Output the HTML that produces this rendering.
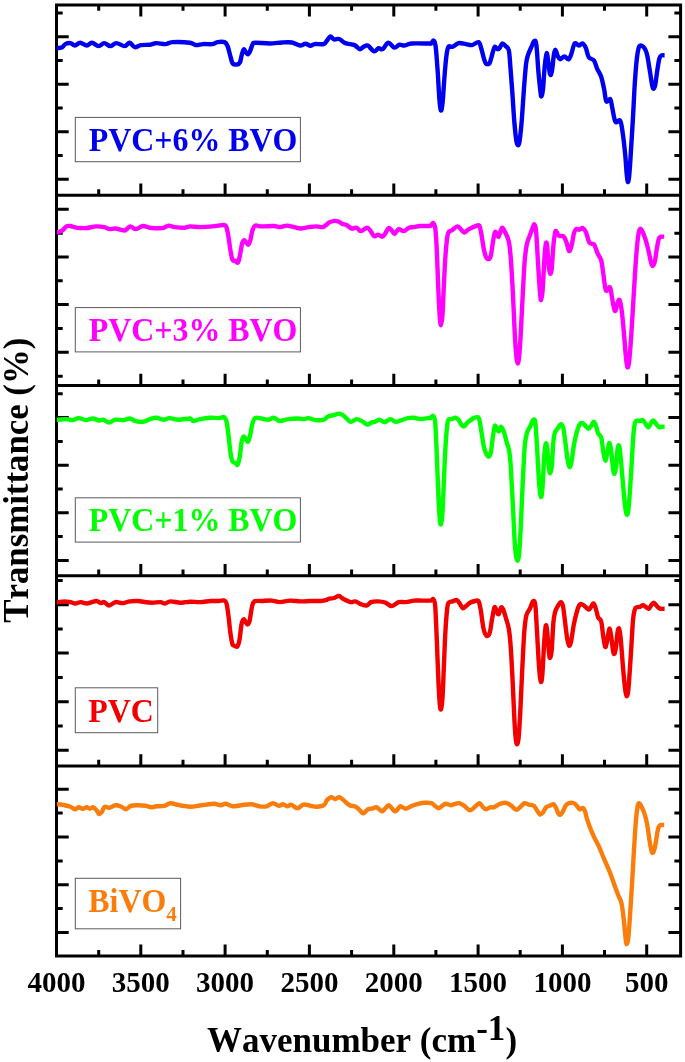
<!DOCTYPE html><html><head><meta charset="utf-8"><title>FTIR spectra</title><style>html,body{margin:0;padding:0;background:#fff}svg{display:block}text{font-family:"Liberation Serif","Times New Roman",serif;font-weight:bold;font-kerning:none;font-variant-ligatures:none}</style></head><body>
<svg width="685" height="1062" viewBox="0 0 685 1062">
<rect width="685" height="1062" fill="#fff"/>
<rect x="75.3" y="117.4" width="225.1" height="44.3" fill="#fff" stroke="#5a5a5a" stroke-width="1"/>
<text transform="translate(88.8 150.6) scale(1 1.040)" font-size="31.9" fill="#0000f0">PVC+6% BVO</text>
<rect x="75.3" y="307.6" width="225.1" height="44.3" fill="#fff" stroke="#5a5a5a" stroke-width="1"/>
<text transform="translate(88.8 340.8) scale(1 1.040)" font-size="31.9" fill="#ff00ff">PVC+3% BVO</text>
<rect x="75.3" y="497.8" width="225.1" height="44.3" fill="#fff" stroke="#5a5a5a" stroke-width="1"/>
<text transform="translate(88.8 531.0) scale(1 1.040)" font-size="31.9" fill="#00ff00">PVC+1% BVO</text>
<rect x="75.3" y="687.8" width="82.4" height="44.9" fill="#fff" stroke="#5a5a5a" stroke-width="1"/>
<text transform="translate(88.3 721.5) scale(1 1.040)" font-size="31.9" fill="#f20000">PVC</text>
<rect x="75.3" y="878.3" width="105.3" height="50.5" fill="#fff" stroke="#5a5a5a" stroke-width="1"/>
<text transform="translate(88.3 912.0) scale(1 1.040)" font-size="31.9" fill="#fa7d0c">BiVO<tspan dy="8.2" font-size="21">4</tspan></text>
<path d="M56.5 36.8H68.7M680.6 36.8H668.4M56.5 84.3H68.7M680.6 84.3H668.4M56.5 131.8H68.7M680.6 131.8H668.4M56.5 179.3H68.7M680.6 179.3H668.4M56.5 13.1H62.7M680.6 13.1H674.4M56.5 60.5H62.7M680.6 60.5H674.4M56.5 108.0H62.7M680.6 108.0H674.4M56.5 155.5H62.7M680.6 155.5H674.4M646.7 195.3V183.6M562.4 195.3V183.6M478.1 195.3V183.6M393.8 195.3V183.6M309.4 195.3V183.6M225.1 195.3V183.6M140.8 195.3V183.6M604.5 195.3V189.2M520.2 195.3V189.2M435.9 195.3V189.2M351.6 195.3V189.2M267.3 195.3V189.2M183.0 195.3V189.2M98.7 195.3V189.2M56.5 209.3H68.7M680.6 209.3H668.4M56.5 257.0H68.7M680.6 257.0H668.4M56.5 304.6H68.7M680.6 304.6H668.4M56.5 352.3H68.7M680.6 352.3H668.4M56.5 233.2H62.7M680.6 233.2H674.4M56.5 280.8H62.7M680.6 280.8H674.4M56.5 328.4H62.7M680.6 328.4H674.4M56.5 376.2H62.7M680.6 376.2H674.4M646.7 385.5V373.8M562.4 385.5V373.8M478.1 385.5V373.8M393.8 385.5V373.8M309.4 385.5V373.8M225.1 385.5V373.8M140.8 385.5V373.8M604.5 385.5V379.4M520.2 385.5V379.4M435.9 385.5V379.4M351.6 385.5V379.4M267.3 385.5V379.4M183.0 385.5V379.4M98.7 385.5V379.4M56.5 417.6H68.7M680.6 417.6H668.4M56.5 465.2H68.7M680.6 465.2H668.4M56.5 512.8H68.7M680.6 512.8H668.4M56.5 560.4H68.7M680.6 560.4H668.4M56.5 393.8H62.7M680.6 393.8H674.4M56.5 441.4H62.7M680.6 441.4H674.4M56.5 489.0H62.7M680.6 489.0H674.4M56.5 536.6H62.7M680.6 536.6H674.4M646.7 575.7V564.0M562.4 575.7V564.0M478.1 575.7V564.0M393.8 575.7V564.0M309.4 575.7V564.0M225.1 575.7V564.0M140.8 575.7V564.0M604.5 575.7V569.6M520.2 575.7V569.6M435.9 575.7V569.6M351.6 575.7V569.6M267.3 575.7V569.6M183.0 575.7V569.6M98.7 575.7V569.6M56.5 604.7H68.7M680.6 604.7H668.4M56.5 653.1H68.7M680.6 653.1H668.4M56.5 701.7H68.7M680.6 701.7H668.4M56.5 750.2H68.7M680.6 750.2H668.4M56.5 580.6H62.7M680.6 580.6H674.4M56.5 629.0H62.7M680.6 629.0H674.4M56.5 677.4H62.7M680.6 677.4H674.4M56.5 726.0H62.7M680.6 726.0H674.4M646.7 765.9V754.2M562.4 765.9V754.2M478.1 765.9V754.2M393.8 765.9V754.2M309.4 765.9V754.2M225.1 765.9V754.2M140.8 765.9V754.2M604.5 765.9V759.8M520.2 765.9V759.8M435.9 765.9V759.8M351.6 765.9V759.8M267.3 765.9V759.8M183.0 765.9V759.8M98.7 765.9V759.8M56.5 789.2H68.7M680.6 789.2H668.4M56.5 837.0H68.7M680.6 837.0H668.4M56.5 884.7H68.7M680.6 884.7H668.4M56.5 932.4H68.7M680.6 932.4H668.4M56.5 813.1H62.7M680.6 813.1H674.4M56.5 860.9H62.7M680.6 860.9H674.4M56.5 908.6H62.7M680.6 908.6H674.4M646.7 956.1V944.4M562.4 956.1V944.4M478.1 956.1V944.4M393.8 956.1V944.4M309.4 956.1V944.4M225.1 956.1V944.4M140.8 956.1V944.4M604.5 956.1V950.0M520.2 956.1V950.0M435.9 956.1V950.0M351.6 956.1V950.0M267.3 956.1V950.0M183.0 956.1V950.0M98.7 956.1V950.0M646.7 5.1V16.6M562.4 5.1V16.6M478.1 5.1V16.6M393.8 5.1V16.6M309.4 5.1V16.6M225.1 5.1V16.6M140.8 5.1V16.6M604.5 5.1V10.8M520.2 5.1V10.8M435.9 5.1V10.8M351.6 5.1V10.8M267.3 5.1V10.8M183.0 5.1V10.8M98.7 5.1V10.8" stroke="#000" stroke-width="3.0" fill="none"/>
<path d="M56.5 5.1H680.6V956.1H56.5ZM56.5 195.3H680.6M56.5 385.5H680.6M56.5 575.7H680.6M56.5 765.9H680.6" stroke="#000" stroke-width="3.0" fill="none" stroke-linejoin="miter"/>
<path d="M56.9 48.4C57.0 48.4 56.9 48.4 57.8 48.2C58.7 48.0 61.0 47.9 62.3 47.2C63.5 46.5 63.9 44.8 65.3 44.1C66.7 43.4 68.8 42.9 70.4 43.1C72.0 43.3 73.3 45.6 74.9 45.5C76.5 45.4 78.2 42.7 80.2 42.7C82.2 42.7 84.8 45.5 86.8 45.5C88.8 45.5 89.9 42.6 91.9 42.7C93.9 42.8 96.5 46.0 98.6 46.1C100.6 46.2 102.2 43.1 104.2 43.1C106.2 43.1 108.3 46.1 110.3 46.1C112.3 46.1 114.0 43.1 116.4 43.1C118.8 43.1 122.4 46.2 124.6 46.1C126.8 46.0 128.0 42.5 129.7 42.7C131.4 42.9 132.9 46.8 134.8 47.2C136.7 47.6 138.4 45.5 140.9 45.1C143.4 44.7 147.5 45.0 150.1 44.7C152.7 44.4 153.7 43.2 156.3 43.1C158.9 43.0 162.8 44.3 165.5 44.1C168.2 43.9 168.5 42.3 172.6 42.1C176.7 41.9 186.1 42.2 190.0 42.7C193.9 43.2 193.8 44.9 196.0 45.1C198.2 45.3 200.3 44.3 203.0 44.1C205.7 43.9 209.9 44.4 212.3 44.1C214.7 43.8 215.4 42.4 217.4 42.1C219.4 41.8 222.8 41.4 224.5 42.1C226.2 42.8 226.6 43.6 227.6 46.1C228.6 48.6 229.8 54.5 230.7 57.4C231.5 60.3 231.7 62.3 232.7 63.5C233.7 64.7 235.6 64.7 236.8 64.5C238.0 64.3 239.1 64.2 239.9 62.5C240.8 60.8 241.2 56.5 241.9 54.3C242.6 52.1 243.2 49.5 243.9 49.2C244.6 48.9 245.3 51.5 246.0 52.3C246.7 53.2 247.3 54.5 248.0 54.3C248.7 54.1 249.2 53.0 250.0 51.3C250.8 49.6 251.8 45.5 252.7 44.1C253.6 42.7 252.4 42.8 255.2 42.7C258.0 42.6 265.1 43.5 269.5 43.5C273.9 43.5 278.1 42.7 281.8 42.5C285.6 42.3 288.9 42.0 292.0 42.5C295.1 43.0 297.9 45.3 300.1 45.5C302.3 45.7 303.6 43.7 305.3 43.7C307.0 43.7 308.9 45.6 310.4 45.7C311.9 45.8 312.3 44.4 314.5 44.1C316.7 43.8 321.6 44.6 323.6 44.1C325.6 43.6 325.6 42.3 326.7 41.0C327.8 39.7 329.2 36.8 330.4 36.5C331.6 36.2 332.6 39.0 334.1 39.4C335.6 39.8 337.3 38.4 339.2 39.0C341.1 39.6 342.8 42.1 345.3 43.1C347.9 44.1 352.1 44.1 354.5 45.1C356.9 46.1 358.1 48.9 359.6 49.2C361.1 49.5 362.3 47.4 363.7 46.8C365.1 46.2 366.1 44.8 367.8 45.5C369.5 46.2 372.1 50.9 373.9 51.3C375.7 51.8 377.1 48.6 378.6 48.2C380.1 47.9 381.1 50.1 382.7 49.2C384.3 48.3 386.2 43.0 388.2 42.7C390.1 42.4 392.5 47.3 394.4 47.6C396.3 47.9 397.8 45.1 399.5 44.7C401.2 44.4 402.6 45.7 404.6 45.5C406.6 45.3 407.8 43.8 411.7 43.5C415.6 43.2 424.9 43.5 428.1 43.5C431.3 43.5 430.2 44.0 431.1 43.5C432.0 43.0 432.9 40.2 433.6 40.6C434.4 41.0 434.9 40.9 435.6 46.1C436.3 51.3 437.1 63.0 437.7 71.7C438.3 80.4 438.8 91.8 439.3 98.3C439.8 104.8 440.3 109.8 440.9 110.5C441.4 111.2 442.0 107.8 442.6 102.4C443.2 96.9 443.8 85.6 444.4 77.8C445.0 70.0 445.8 60.5 446.5 55.3C447.2 50.1 447.5 48.2 448.5 46.8C449.5 45.4 450.9 47.4 452.6 46.8C454.3 46.2 456.5 43.6 458.7 43.1C460.9 42.6 463.7 43.8 465.9 44.1C468.1 44.4 469.9 45.4 472.0 45.1C474.1 44.8 477.0 41.6 478.5 42.1C480.0 42.6 480.3 45.5 481.2 48.2C482.1 50.9 483.1 55.9 483.9 58.4C484.7 60.9 485.0 62.6 485.9 63.5C486.8 64.3 488.5 64.5 489.4 63.5C490.3 62.5 490.5 60.1 491.4 57.4C492.2 54.7 493.5 48.6 494.5 47.2C495.5 45.8 496.8 49.0 497.6 49.2C498.5 49.4 498.8 49.2 499.6 48.2C500.4 47.2 501.3 43.9 502.3 43.5C503.3 43.1 504.6 45.0 505.7 46.1C506.8 47.2 508.0 47.0 508.8 50.2C509.6 53.5 509.7 58.6 510.3 65.6C510.9 72.6 511.6 82.6 512.3 92.1C513.0 101.6 513.7 114.6 514.4 122.8C515.1 131.0 515.8 137.4 516.4 141.2C517.0 144.9 517.5 145.3 518.0 145.3C518.5 145.3 519.0 145.6 519.6 141.2C520.2 136.8 521.2 127.6 521.9 118.7C522.6 109.8 523.3 97.0 524.0 88.0C524.7 79.0 525.4 70.0 526.0 64.5C526.6 59.0 527.0 58.2 527.9 55.3C528.8 52.4 530.2 49.6 531.3 47.2C532.4 44.8 533.4 41.4 534.3 41.0C535.1 40.6 535.7 40.0 536.4 45.1C537.1 50.2 537.7 63.9 538.4 71.7C539.1 79.5 540.0 88.0 540.5 92.1C541.0 96.2 541.1 96.9 541.5 96.2C541.9 95.5 542.6 93.1 543.1 88.0C543.6 82.9 544.2 71.4 544.8 65.6C545.4 59.8 546.0 53.6 546.6 53.1C547.2 52.6 547.9 59.3 548.4 62.6C548.9 65.9 549.3 70.7 549.7 72.7C550.1 74.7 550.5 75.5 550.9 74.8C551.3 74.1 551.8 71.8 552.3 68.6C552.8 65.3 553.3 58.4 553.8 55.3C554.3 52.2 554.9 49.7 555.5 49.8C556.1 49.9 556.9 54.3 557.7 55.9C558.5 57.5 559.0 59.1 560.1 59.2C561.2 59.3 563.0 56.4 564.4 56.4C565.8 56.4 567.4 59.8 568.5 59.4C569.6 59.0 570.2 57.0 571.2 54.3C572.2 51.7 573.4 45.0 574.6 43.5C575.9 42.0 577.3 45.5 578.7 45.5C580.1 45.5 581.6 43.0 582.8 43.5C584.0 44.0 584.9 45.9 585.9 48.2C586.9 50.5 587.5 55.4 588.9 57.4C590.2 59.4 592.6 58.6 594.0 60.5C595.4 62.4 595.9 65.9 597.1 68.6C598.3 71.3 600.0 73.2 601.2 76.8C602.4 80.4 603.4 86.0 604.3 90.1C605.1 94.2 605.3 99.8 606.3 101.3C607.3 102.8 609.4 98.1 610.4 99.3C611.4 100.5 611.5 104.8 612.4 108.5C613.2 112.2 614.2 119.8 615.5 121.8C616.8 123.8 619.0 118.8 620.2 120.7C621.4 122.6 621.9 127.5 622.7 133.0C623.5 138.4 624.4 146.6 625.1 153.4C625.8 160.2 626.2 169.1 626.7 173.9C627.2 178.7 627.4 181.8 627.8 182.1C628.2 182.4 628.7 180.7 629.2 175.9C629.7 171.1 630.2 162.9 630.8 153.4C631.4 143.9 632.2 130.6 632.9 118.7C633.6 106.8 634.2 92.1 634.9 81.9C635.6 71.7 636.2 63.4 637.0 57.4C637.8 51.4 638.2 47.7 639.4 46.1C640.6 44.5 642.8 46.1 644.1 47.6C645.4 49.1 646.2 51.0 647.2 55.3C648.2 59.7 649.4 68.6 650.3 73.7C651.1 78.8 651.7 83.5 652.3 86.0C652.9 88.5 653.2 88.8 653.7 88.5C654.2 88.2 654.8 87.2 655.4 84.0C656.0 80.8 656.7 73.9 657.4 69.6C658.1 65.3 658.7 60.8 659.4 58.4C660.1 56.0 660.6 55.8 661.5 55.3C662.4 54.8 664.1 55.3 664.6 55.3" fill="none" stroke="#0000f0" stroke-width="4.4" stroke-linejoin="round" stroke-linecap="butt"/>
<path d="M56.9 232.4C57.0 232.4 56.9 232.5 57.8 232.2C58.7 231.9 60.9 231.5 62.3 230.5C63.7 229.5 65.1 227.2 66.4 226.4C67.8 225.7 68.7 225.8 70.4 226.0C72.1 226.2 74.0 227.3 76.6 227.7C79.2 228.0 82.6 228.3 85.8 228.1C89.0 227.9 92.9 226.6 96.0 226.4C99.1 226.2 102.0 226.7 104.2 227.1C106.4 227.5 107.4 228.9 109.3 229.1C111.2 229.3 112.9 228.3 115.4 228.5C118.0 228.7 122.1 230.8 124.6 230.5C127.0 230.2 128.2 226.6 130.1 226.4C132.0 226.2 133.7 229.2 135.8 229.1C138.0 229.0 140.6 226.2 143.0 226.0C145.4 225.8 146.9 227.3 150.1 227.7C153.3 228.0 159.3 228.4 162.4 228.1C165.5 227.8 166.4 225.8 168.5 225.6C170.6 225.4 172.0 226.8 174.7 227.1C177.4 227.4 182.3 227.8 184.9 227.7C187.5 227.6 187.4 226.5 190.0 226.4C192.6 226.3 196.4 227.1 200.2 227.1C203.9 227.1 208.6 226.8 212.5 226.4C216.4 226.1 221.4 224.9 223.7 225.0C226.0 225.1 225.6 225.2 226.4 227.1C227.2 229.0 227.7 232.4 228.4 236.3C229.1 240.2 229.8 246.7 230.5 250.6C231.2 254.5 231.7 258.1 232.5 259.8C233.3 261.5 234.5 260.4 235.4 260.8C236.3 261.2 237.2 263.4 238.0 262.4C238.8 261.4 239.4 257.8 240.1 254.6C240.8 251.4 241.4 245.8 242.1 243.4C242.8 241.0 243.5 240.5 244.2 240.3C244.9 240.1 245.5 241.7 246.2 242.4C246.9 243.2 247.5 245.1 248.2 244.8C248.9 244.4 249.6 242.6 250.3 240.3C251.0 238.0 251.5 233.5 252.3 231.1C253.1 228.7 253.5 226.4 255.0 225.6C256.5 224.8 258.4 226.3 261.5 226.4C264.6 226.5 270.7 225.9 273.8 226.0C276.9 226.1 277.7 227.2 279.9 227.1C282.1 227.0 284.7 225.6 287.1 225.6C289.5 225.6 292.0 226.6 294.2 227.1C296.4 227.6 298.0 228.5 300.4 228.5C302.8 228.5 305.8 227.4 308.5 227.1C311.2 226.8 314.3 226.4 316.7 226.4C319.1 226.4 321.1 227.4 322.8 227.1C324.5 226.8 325.8 225.2 326.9 224.4C328.0 223.6 328.0 223.0 329.2 222.4C330.4 221.8 332.8 221.1 334.3 220.9C335.8 220.8 337.0 221.0 338.4 221.5C339.8 222.0 341.1 223.4 342.5 224.0C343.9 224.6 345.1 224.2 346.6 225.0C348.1 225.8 350.1 228.1 351.7 228.5C353.3 228.9 354.9 227.3 356.4 227.7C357.9 228.1 359.1 231.1 360.9 231.1C362.7 231.1 365.4 227.7 367.0 227.7C368.6 227.7 369.5 229.7 370.7 231.1C371.9 232.5 372.9 235.7 374.2 236.3C375.4 236.9 376.8 234.5 378.2 234.6C379.6 234.7 381.1 236.9 382.3 236.7C383.5 236.5 384.4 234.6 385.4 233.2C386.4 231.8 387.5 228.6 388.5 228.1C389.5 227.6 390.5 229.2 391.5 230.1C392.5 231.0 393.4 234.0 394.6 233.8C395.8 233.6 397.2 229.5 398.7 229.1C400.2 228.7 402.1 231.3 403.8 231.1C405.5 230.9 407.2 228.4 408.9 227.7C410.6 227.0 412.1 227.4 414.0 227.1C415.9 226.8 417.7 226.2 420.1 226.0C422.5 225.8 426.5 226.1 428.3 226.0C430.1 225.9 430.0 226.1 430.8 225.6C431.6 225.1 432.6 222.7 433.3 223.2C434.1 223.7 434.7 223.7 435.3 228.6C435.9 233.5 436.4 241.8 436.9 252.6C437.4 263.4 438.0 282.9 438.5 293.5C439.0 304.1 439.3 310.7 439.7 316.0C440.1 321.3 440.4 325.2 440.9 325.2C441.3 325.2 441.9 322.3 442.4 316.0C442.9 309.7 443.3 297.2 443.8 287.3C444.3 277.4 444.8 264.9 445.4 256.7C445.9 248.5 446.6 242.4 447.1 238.3C447.6 234.2 447.8 233.5 448.5 232.2C449.2 230.9 450.1 231.5 451.6 230.5C453.1 229.5 455.8 226.6 457.3 226.4C458.8 226.2 459.7 228.1 460.8 229.1C461.9 230.1 462.9 232.6 464.2 232.6C465.5 232.6 467.1 230.1 468.9 229.1C470.7 228.1 473.4 227.0 475.1 226.4C476.8 225.8 478.2 224.5 479.2 225.6C480.2 226.7 480.4 229.2 481.2 233.2C482.0 237.2 483.1 245.6 483.9 249.5C484.7 253.4 485.1 255.1 485.9 256.7C486.7 258.3 488.0 259.3 488.8 259.1C489.6 258.9 490.1 258.5 490.8 255.7C491.5 252.9 492.2 246.3 492.9 242.4C493.6 238.5 494.2 233.6 494.9 232.2C495.6 230.8 496.3 233.4 496.9 234.2C497.5 234.9 498.0 237.2 498.6 236.7C499.2 236.2 500.0 232.6 500.6 231.1C501.2 229.6 501.6 227.5 502.3 227.7C503.1 227.9 504.0 229.9 505.1 232.2C506.2 234.5 507.9 237.0 508.8 241.4C509.8 245.8 510.1 250.0 510.8 258.7C511.5 267.4 512.2 280.6 512.9 293.5C513.6 306.4 514.3 325.9 514.9 336.4C515.5 347.0 515.9 352.3 516.4 356.8C516.9 361.3 517.2 363.2 517.6 363.4C518.0 363.6 518.5 362.4 519.0 357.9C519.5 353.4 520.0 346.8 520.6 336.4C521.2 326.0 522.0 308.1 522.7 295.5C523.4 282.9 524.0 269.3 524.7 260.8C525.4 252.3 525.9 248.8 526.8 244.4C527.7 240.0 529.3 237.1 530.3 234.2C531.3 231.3 532.2 228.7 532.9 227.1C533.6 225.5 533.8 223.9 534.3 224.4C534.8 224.9 535.4 224.4 536.0 230.1C536.6 235.8 537.1 248.5 537.8 258.7C538.4 268.9 539.3 284.5 539.9 291.4C540.5 298.3 540.6 300.3 541.1 300.0C541.6 299.7 542.2 296.3 542.7 289.4C543.2 282.5 543.9 266.4 544.4 258.7C544.9 251.0 545.5 245.4 546.0 243.4C546.5 241.4 546.8 242.9 547.2 246.5C547.6 250.1 548.1 260.4 548.6 264.9C549.1 269.4 549.6 272.8 550.1 273.5C550.6 274.2 551.2 273.5 551.7 269.0C552.2 264.5 552.8 252.5 553.3 246.5C553.8 240.5 554.5 235.8 555.0 233.2C555.5 230.6 555.6 230.7 556.2 231.1C556.9 231.5 557.7 234.9 558.9 235.8C560.1 236.7 562.1 235.2 563.4 236.3C564.7 237.4 565.5 239.9 566.5 242.4C567.5 244.9 568.2 250.5 569.1 251.0C570.0 251.5 570.8 248.5 571.6 245.5C572.4 242.5 573.2 235.9 574.0 233.2C574.8 230.5 575.2 229.7 576.1 229.1C577.0 228.5 578.2 229.9 579.3 229.7C580.4 229.5 581.7 227.7 582.8 228.1C583.9 228.5 584.8 229.8 585.9 232.2C587.0 234.6 588.2 240.8 589.6 242.8C591.0 244.8 592.6 242.6 594.0 244.4C595.4 246.2 596.5 250.9 597.7 253.6C598.9 256.3 600.3 257.2 601.2 260.4C602.1 263.6 602.4 268.0 603.2 273.0C604.0 278.0 604.8 288.0 605.9 290.4C607.0 292.8 609.0 286.1 610.0 287.3C611.0 288.5 611.2 293.7 612.0 297.6C612.8 301.5 614.0 310.1 614.9 310.9C615.8 311.8 616.8 304.5 617.6 302.7C618.4 300.9 618.9 298.8 619.6 300.0C620.3 301.2 620.9 304.8 621.6 309.8C622.3 314.9 623.0 322.8 623.7 330.3C624.4 337.8 625.1 348.7 625.7 354.8C626.3 360.9 626.8 366.1 627.4 367.1C628.0 368.1 628.6 366.0 629.2 360.9C629.8 355.8 630.5 346.3 631.2 336.4C631.9 326.5 632.6 312.9 633.3 301.7C634.0 290.5 634.6 278.9 635.3 269.0C636.0 259.1 636.7 248.9 637.4 242.4C638.1 235.9 638.7 232.2 639.4 230.1C640.1 228.0 640.5 228.3 641.5 229.7C642.5 231.1 644.0 235.0 645.1 238.3C646.2 241.6 647.2 245.6 648.2 249.5C649.2 253.4 650.1 259.1 650.9 261.8C651.6 264.5 652.0 266.1 652.7 265.9C653.4 265.7 654.3 263.9 655.0 260.8C655.7 257.7 656.3 251.2 657.0 247.5C657.7 243.8 658.3 240.1 659.0 238.3C659.7 236.5 660.2 237.0 661.1 236.7C662.0 236.4 663.7 236.7 664.2 236.7" fill="none" stroke="#ff00ff" stroke-width="4.4" stroke-linejoin="round" stroke-linecap="butt"/>
<path d="M56.9 419.9C57.0 419.9 56.2 419.8 57.8 419.7C59.4 419.6 64.0 419.0 66.4 419.1C68.9 419.2 70.5 420.3 72.5 420.1C74.5 419.9 76.4 418.1 78.6 418.1C80.8 418.1 83.4 420.0 85.8 420.1C88.2 420.2 90.7 418.4 92.9 418.5C95.1 418.6 97.3 420.3 99.0 420.5C100.7 420.7 101.4 419.4 103.1 419.7C104.8 420.1 107.2 422.6 109.3 422.6C111.3 422.6 113.0 420.1 115.4 419.7C117.8 419.3 121.2 420.3 123.6 420.1C126.0 419.9 127.7 418.3 129.7 418.5C131.7 418.7 133.6 420.6 135.8 421.1C138.0 421.7 140.6 422.1 143.0 421.8C145.4 421.5 147.9 419.8 150.1 419.1C152.3 418.4 154.1 417.6 156.3 417.7C158.5 417.8 161.2 419.6 163.4 419.7C165.6 419.8 167.0 418.1 169.6 418.1C172.2 418.1 175.4 419.6 178.8 419.7C182.2 419.8 187.6 418.3 190.0 418.5C192.4 418.7 191.4 421.0 193.1 421.1C194.8 421.2 197.3 419.7 200.2 419.1C203.1 418.5 207.3 417.9 210.4 417.7C213.5 417.5 216.4 418.2 218.6 418.1C220.8 418.0 222.4 416.6 223.7 417.1C225.0 417.6 225.6 418.2 226.4 421.1C227.2 424.0 227.7 429.1 228.4 434.4C229.1 439.7 229.8 448.3 230.5 452.8C231.2 457.3 231.7 459.7 232.5 461.4C233.3 463.1 234.6 462.4 235.4 463.0C236.2 463.6 236.9 465.7 237.6 464.7C238.3 463.7 239.0 460.8 239.7 456.9C240.4 453.1 241.0 445.0 241.7 441.6C242.4 438.2 242.9 436.9 243.7 436.5C244.4 436.1 245.4 438.6 246.2 439.5C246.9 440.4 247.5 442.5 248.2 441.6C248.9 440.8 249.6 437.3 250.3 434.4C251.0 431.5 251.5 426.9 252.3 424.2C253.1 421.5 253.5 419.1 255.0 418.1C256.5 417.2 259.2 418.2 261.5 418.5C263.8 418.8 266.6 419.8 268.7 419.7C270.8 419.6 271.9 417.5 273.8 417.7C275.7 417.9 277.5 420.9 279.9 421.1C282.3 421.3 285.0 419.5 288.1 419.1C291.2 418.7 295.6 418.5 298.3 418.5C301.0 418.5 302.8 419.2 304.5 419.1C306.2 419.0 306.6 417.9 308.5 418.1C310.4 418.3 313.1 419.8 315.7 420.1C318.3 420.4 321.8 420.3 323.9 419.7C325.9 419.1 326.3 417.2 328.0 416.4C329.7 415.6 332.4 415.5 334.3 415.0C336.2 414.5 337.7 413.4 339.4 413.6C341.1 413.8 342.6 415.0 344.5 416.4C346.4 417.8 348.7 421.4 350.7 421.8C352.7 422.2 354.5 419.2 356.4 419.1C358.3 419.0 360.1 420.2 361.9 421.1C363.7 422.0 365.9 424.4 367.4 424.6C368.9 424.9 369.8 423.1 371.1 422.6C372.4 422.1 373.8 422.3 375.2 421.8C376.6 421.3 377.8 419.6 379.3 419.7C380.8 419.8 382.5 422.3 384.4 422.2C386.3 422.1 388.6 419.2 390.5 419.1C392.4 419.0 393.7 421.6 395.6 421.8C397.5 422.0 399.8 420.7 401.8 420.1C403.9 419.5 405.9 418.5 407.9 418.1C409.9 417.7 412.0 417.5 414.0 417.7C416.0 417.9 417.7 419.0 420.1 419.1C422.5 419.2 426.6 418.3 428.3 418.1C430.0 417.9 429.7 418.5 430.5 418.1C431.3 417.8 432.2 415.3 433.0 416.0C433.8 416.7 434.6 415.4 435.2 422.2C435.8 429.0 436.3 444.3 436.9 456.9C437.4 469.5 438.0 487.6 438.5 497.8C439.0 508.0 439.3 513.8 439.7 518.2C440.1 522.6 440.4 525.1 440.9 524.4C441.3 523.7 441.9 520.9 442.4 514.1C442.9 507.3 443.3 494.4 443.8 483.5C444.3 472.6 444.8 458.2 445.4 448.7C445.9 439.2 446.6 431.1 447.1 426.3C447.6 421.5 447.8 420.9 448.5 419.7C449.2 418.5 450.4 419.4 451.6 419.1C452.8 418.8 454.5 417.5 455.7 417.7C456.9 417.9 457.7 418.9 458.7 420.1C459.7 421.4 460.9 424.2 461.8 425.2C462.7 426.2 463.2 426.8 464.2 426.3C465.2 425.8 466.4 423.5 467.9 422.2C469.4 420.9 471.5 419.4 473.0 418.5C474.5 417.6 476.1 417.0 477.1 417.1C478.1 417.2 478.5 416.9 479.2 419.1C479.9 421.3 480.4 425.7 481.2 430.3C482.0 434.9 483.0 442.8 483.9 446.7C484.8 450.6 485.5 452.2 486.3 453.8C487.1 455.4 488.1 456.7 488.8 456.5C489.6 456.3 490.1 456.1 490.8 452.8C491.5 449.5 492.2 441.0 492.9 436.5C493.6 432.0 494.2 427.0 494.9 425.8C495.6 424.6 496.2 428.4 496.9 429.3C497.6 430.2 498.3 431.8 499.0 431.4C499.7 431.0 500.2 426.7 501.0 426.7C501.8 426.7 502.7 428.8 503.7 431.4C504.7 434.1 505.9 439.4 506.8 442.6C507.7 445.8 508.5 446.7 509.2 450.8C509.9 454.9 510.2 457.9 510.8 467.1C511.4 476.3 512.3 494.1 512.9 506.0C513.5 517.9 514.0 530.5 514.5 538.7C515.0 546.9 515.4 551.3 515.9 555.0C516.4 558.7 516.9 560.7 517.4 560.7C517.9 560.7 518.5 560.0 519.0 555.0C519.5 550.0 520.0 542.4 520.6 530.5C521.2 518.6 522.0 497.5 522.7 483.5C523.4 469.5 524.0 455.1 524.7 446.7C525.4 438.4 525.9 436.8 526.8 433.4C527.7 430.0 529.2 428.6 530.3 426.3C531.4 424.0 532.4 420.2 533.3 419.7C534.1 419.2 534.8 418.7 535.4 423.2C536.0 427.7 536.4 437.0 537.0 446.7C537.6 456.4 538.4 473.1 539.0 481.4C539.6 489.8 540.3 495.8 540.9 496.8C541.5 497.8 542.0 494.2 542.5 487.6C543.0 481.0 543.7 464.2 544.2 456.9C544.8 449.6 545.3 445.0 545.8 443.6C546.3 442.2 546.7 444.8 547.2 448.7C547.7 452.6 548.4 463.0 548.9 467.1C549.4 471.2 549.6 473.3 550.1 473.3C550.6 473.3 551.2 472.2 551.7 467.1C552.2 462.0 552.8 448.4 553.3 442.6C553.8 436.8 554.2 434.8 555.0 432.4C555.8 430.0 556.8 429.7 557.8 428.3C558.8 426.9 560.0 424.2 560.9 424.2C561.8 424.2 562.6 425.2 563.4 428.3C564.1 431.4 564.7 437.5 565.4 442.6C566.1 447.7 566.8 454.9 567.5 459.0C568.2 463.1 568.8 466.8 569.5 467.1C570.2 467.4 570.9 464.8 571.6 461.0C572.4 457.2 573.1 449.4 574.0 444.6C574.9 439.8 575.8 435.8 576.7 432.4C577.7 429.0 578.7 425.7 579.7 424.2C580.7 422.7 581.8 422.9 582.8 423.2C583.8 423.6 584.9 425.4 585.9 426.3C586.9 427.2 587.9 428.9 588.9 428.7C589.9 428.5 590.8 426.4 591.6 425.2C592.5 424.1 593.2 421.6 594.0 421.8C594.8 422.0 595.4 424.4 596.1 426.3C596.8 428.2 597.2 431.5 598.1 433.4C599.0 435.3 600.4 434.6 601.2 437.5C602.1 440.4 602.5 446.9 603.2 450.8C603.9 454.7 604.6 460.3 605.3 460.6C606.0 460.9 606.6 455.7 607.3 452.8C608.0 449.9 608.7 443.0 609.4 443.0C610.1 443.0 610.8 448.4 611.4 452.8C612.0 457.2 612.6 465.7 613.1 469.2C613.6 472.7 614.0 474.4 614.5 473.7C615.0 473.0 615.6 469.4 616.1 465.1C616.6 460.8 617.2 450.8 617.8 447.7C618.3 444.6 618.9 444.5 619.4 446.7C619.9 448.9 620.4 454.5 621.0 461.0C621.6 467.5 622.4 478.0 623.1 485.5C623.8 493.0 624.5 501.2 625.1 506.0C625.7 510.8 626.2 513.8 626.7 514.5C627.2 515.2 627.9 514.1 628.4 510.0C628.9 505.9 629.5 497.4 630.0 489.6C630.5 481.8 631.2 471.9 631.7 463.0C632.2 454.1 632.8 443.1 633.3 436.5C633.8 429.9 634.3 425.9 634.9 423.2C635.5 420.5 636.1 420.9 637.0 420.5C637.9 420.1 639.0 421.2 640.0 421.1C641.0 421.0 641.9 419.8 642.7 420.1C643.6 420.5 644.2 422.0 645.1 423.2C646.0 424.4 647.2 427.3 648.2 427.3C649.2 427.3 650.0 424.3 650.9 423.2C651.8 422.1 652.4 420.3 653.3 420.5C654.2 420.7 655.4 423.1 656.4 424.2C657.4 425.3 658.1 426.9 659.0 427.3C659.9 427.7 660.6 426.8 661.5 426.7C662.4 426.6 664.1 426.7 664.6 426.7" fill="none" stroke="#00ff00" stroke-width="4.4" stroke-linejoin="round" stroke-linecap="butt"/>
<path d="M56.9 602.3C57.0 602.3 56.6 602.2 57.8 602.1C59.0 602.0 62.2 601.4 64.3 601.4C66.4 601.4 68.5 601.8 70.4 602.1C72.3 602.5 73.8 603.5 75.5 603.5C77.2 603.5 78.8 602.1 80.7 602.1C82.6 602.1 84.9 603.5 86.8 603.5C88.7 603.5 90.3 602.5 91.9 602.1C93.5 601.7 95.1 600.8 96.6 601.0C98.1 601.2 99.8 602.9 101.1 603.1C102.4 603.3 102.8 601.7 104.2 602.1C105.6 602.5 107.4 605.5 109.3 605.5C111.2 605.5 113.2 602.5 115.4 602.1C117.6 601.7 120.2 603.2 122.6 603.1C125.0 603.0 127.1 601.8 129.7 601.4C132.2 601.0 135.2 600.9 137.9 601.0C140.6 601.1 143.7 602.0 146.1 602.3C148.5 602.6 149.8 602.7 152.2 602.7C154.6 602.7 158.3 602.0 160.4 602.1C162.5 602.2 163.2 603.6 164.9 603.5C166.6 603.4 167.9 601.5 170.6 601.4C173.2 601.3 177.6 602.7 180.8 602.7C184.0 602.8 186.8 601.8 190.0 601.7C193.2 601.6 196.8 602.2 200.2 602.1C203.6 602.0 207.3 601.2 210.4 601.0C213.5 600.8 216.4 601.1 218.6 601.0C220.8 600.9 222.4 600.0 223.7 600.4C225.0 600.8 225.6 600.6 226.4 603.1C227.2 605.6 227.7 610.2 228.4 615.3C229.1 620.4 229.8 628.9 230.5 633.7C231.2 638.6 231.8 642.4 232.5 644.4C233.2 646.4 234.2 645.7 235.0 646.0C235.8 646.3 236.7 647.4 237.4 646.4C238.2 645.4 238.8 643.5 239.5 639.9C240.2 636.2 240.8 627.9 241.5 624.5C242.2 621.1 242.8 619.8 243.5 619.4C244.2 619.0 244.9 621.0 245.6 621.9C246.3 622.8 246.9 624.7 247.6 624.5C248.3 624.3 249.0 623.4 249.7 620.5C250.4 617.6 251.1 610.4 251.9 607.2C252.7 604.0 252.8 602.4 254.4 601.4C256.0 600.4 258.6 601.1 261.5 601.0C264.4 600.9 268.7 600.4 271.8 600.6C274.9 600.8 276.8 602.1 279.9 602.1C282.9 602.1 286.7 600.7 290.1 600.6C293.5 600.5 297.0 601.3 300.4 601.4C303.8 601.5 307.2 601.1 310.6 601.0C314.0 600.9 318.2 601.1 320.8 601.0C323.4 600.9 324.5 600.6 325.9 600.2C327.3 599.8 327.8 599.0 329.2 598.6C330.6 598.2 332.7 598.5 334.3 598.0C335.9 597.5 337.3 595.7 338.8 595.9C340.3 596.1 341.5 598.0 343.5 599.0C345.5 600.0 348.8 601.7 350.7 602.1C352.6 602.5 353.5 601.1 355.2 601.4C356.9 601.7 359.0 603.4 360.9 604.1C362.8 604.8 364.9 605.8 366.6 605.5C368.3 605.2 369.2 602.8 371.1 602.1C373.0 601.4 375.8 601.3 378.2 601.4C380.6 601.5 383.1 601.9 385.4 602.7C387.7 603.5 389.7 606.2 391.9 606.1C394.1 606.0 396.4 602.8 398.7 602.1C401.0 601.4 403.2 602.4 405.8 602.1C408.4 601.9 411.3 600.9 414.0 600.6C416.7 600.4 419.6 600.6 422.2 600.6C424.8 600.6 427.8 600.6 429.3 600.6C430.9 600.6 430.9 600.6 431.5 600.4C432.1 600.2 432.6 598.2 433.2 599.2C433.8 600.2 434.6 599.0 435.2 606.1C435.8 613.2 436.3 629.1 436.9 641.9C437.4 654.7 438.0 672.6 438.5 682.8C439.0 693.0 439.3 698.8 439.7 703.2C440.1 707.6 440.4 710.1 440.9 709.4C441.3 708.7 441.9 705.9 442.4 699.1C442.9 692.3 443.3 679.7 443.8 668.5C444.3 657.3 444.8 641.6 445.4 631.7C445.9 621.8 446.6 614.0 447.1 609.2C447.6 604.4 447.6 604.0 448.5 602.7C449.4 601.4 451.2 601.9 452.6 601.4C454.0 600.9 455.5 599.6 456.7 600.0C457.9 600.4 458.7 602.1 459.7 603.5C460.7 604.9 461.8 607.8 462.8 608.2C463.8 608.6 464.7 607.0 465.9 606.1C467.1 605.2 468.5 603.6 470.0 602.7C471.5 601.9 473.7 601.3 475.1 601.0C476.5 600.7 477.6 599.6 478.5 601.0C479.4 602.4 479.8 604.8 480.6 609.2C481.4 613.6 482.5 623.5 483.3 627.6C484.1 631.8 484.5 632.7 485.3 634.1C486.1 635.5 487.2 636.2 488.0 635.8C488.8 635.4 489.3 634.4 490.0 631.7C490.7 629.0 491.2 623.5 492.0 619.4C492.8 615.3 493.8 608.6 494.5 607.2C495.2 605.8 495.8 609.6 496.5 610.8C497.2 612.0 497.9 614.8 498.6 614.3C499.4 613.8 500.2 608.5 501.0 607.6C501.8 606.8 502.3 607.6 503.1 609.2C503.9 610.8 504.8 614.2 505.7 617.4C506.6 620.6 507.9 623.5 508.8 628.6C509.7 633.7 510.1 638.3 510.8 648.0C511.5 657.7 512.3 674.6 512.9 686.9C513.5 699.2 514.0 712.8 514.5 721.6C515.0 730.5 515.4 736.2 515.9 740.0C516.4 743.8 516.8 744.4 517.2 744.1C517.7 743.8 518.1 743.1 518.6 738.0C519.1 732.9 519.6 725.0 520.2 713.4C520.8 701.8 521.6 682.1 522.3 668.5C523.0 654.9 523.6 640.6 524.3 631.7C525.0 622.8 525.5 619.1 526.4 615.3C527.3 611.6 528.5 611.6 529.6 609.2C530.8 606.8 532.3 601.5 533.3 601.0C534.3 600.5 534.8 601.0 535.4 606.1C536.0 611.2 536.4 621.7 537.0 631.7C537.6 641.8 538.4 658.0 539.0 666.4C539.6 674.8 540.3 680.8 540.9 681.8C541.5 682.8 542.0 679.2 542.5 672.6C543.0 666.0 543.7 649.7 544.2 641.9C544.8 634.1 545.3 627.3 545.8 625.6C546.3 623.9 546.7 627.3 547.2 631.7C547.7 636.1 548.4 647.7 548.9 652.1C549.4 656.5 549.6 658.2 550.1 657.9C550.6 657.6 551.2 655.8 551.7 650.1C552.2 644.4 552.8 629.8 553.3 623.5C553.8 617.2 554.2 615.2 555.0 612.3C555.8 609.4 556.8 607.8 557.8 606.1C558.8 604.4 560.0 602.1 560.9 602.1C561.8 602.1 562.3 602.9 563.0 606.1C563.7 609.3 564.3 616.2 565.0 621.5C565.7 626.8 566.4 633.8 567.1 637.8C567.8 641.8 568.4 645.1 569.1 645.6C569.8 646.1 570.5 644.2 571.2 640.9C572.0 637.6 572.7 630.4 573.6 625.6C574.5 620.8 575.7 615.8 576.7 612.3C577.7 608.8 578.7 606.0 579.7 604.7C580.7 603.4 581.8 604.3 582.8 604.7C583.8 605.1 584.9 606.4 585.9 607.2C586.9 608.0 587.9 609.8 588.9 609.6C589.9 609.4 590.8 607.1 591.6 606.1C592.4 605.1 592.9 603.1 593.6 603.5C594.3 603.9 595.0 605.9 595.7 608.2C596.5 610.5 597.2 615.2 598.1 617.4C599.0 619.6 600.4 618.4 601.2 621.5C602.1 624.6 602.5 631.6 603.2 635.8C603.9 640.1 604.6 646.3 605.3 647.0C606.0 647.7 606.6 643.0 607.3 639.9C608.0 636.8 608.7 629.0 609.4 628.6C610.1 628.2 610.8 634.1 611.4 637.8C612.0 641.6 612.6 648.4 613.1 651.1C613.6 653.8 614.0 654.7 614.5 653.8C615.0 653.0 615.6 649.9 616.1 646.0C616.6 642.1 617.2 633.4 617.8 630.7C618.3 628.0 618.9 627.7 619.4 629.6C619.9 631.5 620.4 635.4 621.0 641.9C621.6 648.4 622.4 660.7 623.1 668.5C623.8 676.3 624.5 684.3 625.1 688.9C625.7 693.5 626.0 695.8 626.5 696.1C627.0 696.5 627.7 695.3 628.2 691.0C628.8 686.7 629.2 678.3 629.8 670.5C630.3 662.7 631.0 652.5 631.5 644.0C632.0 635.5 632.5 625.2 633.1 619.4C633.7 613.6 634.2 611.2 634.9 609.2C635.5 607.2 636.1 607.6 637.0 607.2C637.9 606.8 639.0 607.2 640.0 606.8C641.0 606.5 642.1 605.0 643.1 605.1C644.1 605.2 645.2 606.6 646.2 607.2C647.2 607.8 647.9 609.2 648.8 608.8C649.6 608.5 650.5 606.1 651.3 605.1C652.1 604.1 652.9 602.6 653.7 602.7C654.6 602.8 655.5 604.6 656.4 605.5C657.3 606.4 658.1 607.7 659.0 608.2C659.9 608.8 660.6 608.7 661.5 608.8C662.4 608.9 664.1 608.8 664.6 608.8" fill="none" stroke="#f20000" stroke-width="4.4" stroke-linejoin="round" stroke-linecap="butt"/>
<path d="M56.9 804.4C57.0 804.4 56.6 804.1 57.8 804.2C59.0 804.3 62.2 804.8 64.3 805.2C66.4 805.6 68.6 806.0 70.4 806.7C72.2 807.4 73.5 809.2 74.9 809.3C76.3 809.4 77.3 807.4 78.6 807.3C79.9 807.2 81.3 808.7 82.7 808.7C84.1 808.7 85.6 807.3 86.8 807.3C88.0 807.3 88.8 808.7 89.9 808.7C91.0 808.7 92.2 807.0 93.3 807.3C94.4 807.6 95.6 809.2 96.6 810.3C97.5 811.4 98.2 813.6 99.0 814.0C99.8 814.4 100.5 813.6 101.5 812.4C102.5 811.2 103.5 807.5 104.8 806.7C106.1 806.0 107.5 808.1 109.3 807.9C111.1 807.6 113.4 805.4 115.4 805.2C117.4 805.0 119.7 806.0 121.5 806.7C123.3 807.4 124.5 809.5 126.0 809.3C127.5 809.2 128.7 806.5 130.7 805.8C132.7 805.1 135.3 805.2 137.9 805.2C140.5 805.2 143.9 805.5 146.1 805.8C148.3 806.2 149.5 807.2 151.2 807.3C152.9 807.4 154.1 806.6 156.3 806.3C158.5 806.1 162.0 806.3 164.4 805.8C166.8 805.3 168.2 803.3 170.6 803.2C173.0 803.1 175.6 804.6 178.8 805.2C182.0 805.8 186.8 806.6 190.0 806.7C193.2 806.8 195.5 806.2 198.2 805.8C200.9 805.5 203.6 804.9 206.3 804.6C209.0 804.3 212.1 803.7 214.5 803.8C216.9 803.9 218.8 805.2 220.7 805.2C222.6 805.2 223.8 803.6 225.8 803.8C227.8 804.0 230.4 806.1 232.9 806.3C235.4 806.5 238.0 805.6 241.1 805.2C244.2 804.9 248.2 804.0 251.3 804.2C254.4 804.4 256.9 806.0 259.5 806.3C262.1 806.7 264.4 806.8 266.6 806.3C268.8 805.8 270.8 803.3 272.8 803.2C274.9 803.1 277.2 805.6 278.9 805.8C280.6 806.0 281.5 804.1 283.0 804.2C284.5 804.3 286.3 806.2 287.7 806.3C289.1 806.4 289.6 804.3 291.2 804.6C292.8 804.9 295.3 808.3 297.3 808.3C299.3 808.3 301.2 805.0 303.4 804.6C305.6 804.2 308.4 805.5 310.6 805.8C312.8 806.2 314.5 806.8 316.7 806.7C318.9 806.6 322.2 806.3 323.9 805.2C325.6 804.1 326.1 801.2 326.9 800.1C327.7 799.0 328.1 799.1 328.8 798.6C329.5 798.1 330.1 797.0 331.2 797.1C332.3 797.2 333.9 799.1 335.3 799.1C336.7 799.1 338.0 796.9 339.4 797.1C340.8 797.3 341.8 798.8 343.5 800.1C345.2 801.5 347.6 804.1 349.6 805.2C351.7 806.3 354.1 805.9 355.8 806.7C357.5 807.6 358.6 809.2 359.9 810.3C361.1 811.4 361.9 813.6 363.3 813.4C364.7 813.2 366.5 810.1 368.0 809.3C369.5 808.5 370.7 809.0 372.1 808.7C373.5 808.4 375.0 807.2 376.2 807.3C377.4 807.4 378.3 808.6 379.3 809.3C380.3 810.0 381.3 811.6 382.3 811.4C383.3 811.2 384.4 809.3 385.4 808.3C386.4 807.3 387.5 805.3 388.5 805.2C389.5 805.1 390.4 806.9 391.5 807.9C392.6 808.9 394.0 811.4 395.2 811.4C396.4 811.4 397.8 808.8 398.7 807.9C399.6 807.0 399.5 806.2 400.7 806.3C401.9 806.4 403.9 808.8 405.8 808.7C407.7 808.6 409.9 806.6 412.0 805.8C414.1 805.0 415.9 804.3 418.1 803.8C420.3 803.3 423.1 802.9 425.3 802.8C427.5 802.7 429.8 802.7 431.4 803.2C433.0 803.7 433.7 805.0 434.9 805.8C436.1 806.7 437.3 808.3 438.5 808.3C439.7 808.3 441.0 806.6 442.2 805.8C443.4 805.1 444.3 803.9 445.7 803.8C447.1 803.7 449.4 805.1 450.8 805.2C452.2 805.3 452.7 804.5 454.1 804.2C455.5 803.9 457.5 802.9 459.2 803.2C460.9 803.5 462.5 804.6 464.3 805.8C466.1 807.0 468.1 810.2 470.0 810.3C471.9 810.4 473.9 807.5 475.5 806.3C477.1 805.1 478.3 803.0 479.6 803.2C480.9 803.4 482.0 806.3 483.1 807.3C484.2 808.3 485.3 809.3 486.4 809.3C487.5 809.3 488.6 807.6 489.9 807.3C491.1 807.0 492.2 807.9 493.9 807.3C495.6 806.7 498.1 804.6 500.1 803.8C502.2 803.1 504.3 802.5 506.2 802.8C508.1 803.1 509.6 804.6 511.3 805.8C513.0 807.0 514.9 809.8 516.4 809.9C517.9 810.0 519.1 807.8 520.5 806.7C521.9 805.6 523.2 803.6 524.6 803.2C526.0 802.9 527.2 804.2 528.7 804.6C530.2 805.0 532.4 804.9 533.8 805.8C535.2 806.8 535.9 808.9 536.9 810.3C537.9 811.7 538.9 814.0 539.9 814.4C540.9 814.8 542.0 813.6 543.0 812.4C544.0 811.2 545.0 808.4 546.1 807.3C547.2 806.2 548.5 806.3 549.7 805.8C550.9 805.3 552.4 803.9 553.4 804.2C554.4 804.5 555.2 806.3 556.0 807.8C556.8 809.3 557.6 812.2 558.3 813.4C559.0 814.6 559.5 815.1 560.3 814.8C561.1 814.5 562.0 812.9 562.9 811.4C563.8 809.9 564.5 807.5 565.4 806.1C566.3 804.7 567.1 803.7 568.5 803.2C569.9 802.7 572.6 802.7 574.0 803.2C575.4 803.7 576.0 805.0 577.0 806.0C578.0 807.0 578.7 809.0 579.7 809.3C580.7 809.6 582.1 807.5 583.0 807.9C583.9 808.2 584.3 809.6 585.0 811.4C585.7 813.2 586.2 816.3 587.0 818.9C587.8 821.5 588.5 823.7 589.7 826.7C590.9 829.7 592.4 833.5 594.0 836.9C595.6 840.3 597.5 843.4 599.2 847.1C600.9 850.9 602.4 855.0 604.3 859.4C606.2 863.8 608.5 868.9 610.4 873.7C612.3 878.5 614.1 884.2 615.5 888.0C616.9 891.8 617.7 894.0 618.6 896.2C619.5 898.4 620.3 898.9 621.0 901.3C621.7 903.7 622.2 906.6 622.7 910.5C623.2 914.4 623.8 920.0 624.3 924.8C624.8 929.6 625.3 935.9 625.7 939.1C626.1 942.3 626.3 944.2 626.7 944.2C627.1 944.2 627.7 943.4 628.2 939.1C628.7 934.9 629.2 927.6 629.8 918.7C630.4 909.9 631.2 897.2 631.9 886.0C632.6 874.8 633.2 862.1 633.9 851.2C634.6 840.3 635.3 828.1 635.9 820.6C636.5 813.1 637.1 809.2 637.6 806.3C638.1 803.4 638.4 803.3 639.0 803.2C639.6 803.1 640.1 803.9 641.1 805.8C642.1 807.7 643.7 811.3 644.7 814.4C645.7 817.5 646.4 820.2 647.2 824.6C648.0 829.0 648.9 836.7 649.6 841.0C650.3 845.3 650.8 848.2 651.3 850.2C651.8 852.2 652.1 853.2 652.7 852.9C653.3 852.6 654.0 851.0 654.7 848.2C655.4 845.4 656.2 839.3 656.8 835.9C657.4 832.5 657.8 829.5 658.4 827.7C659.0 825.9 659.5 825.5 660.5 825.1C661.5 824.7 663.6 825.1 664.2 825.1" fill="none" stroke="#fa7d0c" stroke-width="4.4" stroke-linejoin="round" stroke-linecap="butt"/>
<text x="646.7" y="992.0" font-size="29.0" text-anchor="middle" fill="#000">500</text>
<text x="562.4" y="992.0" font-size="29.0" text-anchor="middle" fill="#000">1000</text>
<text x="478.1" y="992.0" font-size="29.0" text-anchor="middle" fill="#000">1500</text>
<text x="393.8" y="992.0" font-size="29.0" text-anchor="middle" fill="#000">2000</text>
<text x="309.4" y="992.0" font-size="29.0" text-anchor="middle" fill="#000">2500</text>
<text x="225.1" y="992.0" font-size="29.0" text-anchor="middle" fill="#000">3000</text>
<text x="140.8" y="992.0" font-size="29.0" text-anchor="middle" fill="#000">3500</text>
<text x="56.5" y="992.0" font-size="29.0" text-anchor="middle" fill="#000">4000</text>
<text x="362.0" y="1051.8" font-size="35.0" fill="#000" text-anchor="middle">Wavenumber (cm<tspan dy="-12.0" font-size="35.0">-1</tspan><tspan dy="12.0">)</tspan></text>
<text transform="translate(27.6 480.2) rotate(-90)" font-size="34.8" fill="#000" text-anchor="middle">Transmittance (%)</text>
</svg></body></html>
